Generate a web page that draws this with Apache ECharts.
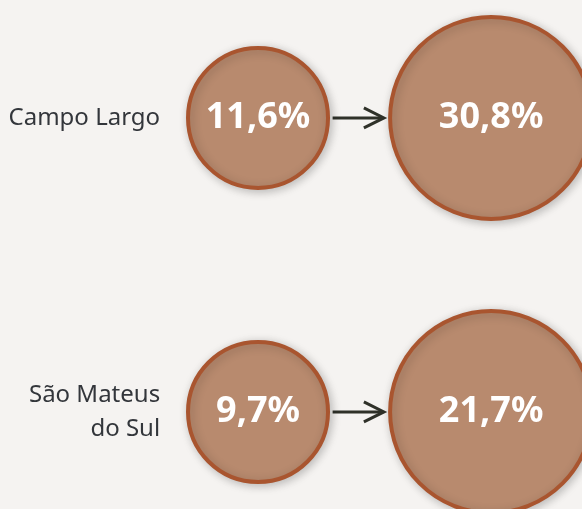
<!DOCTYPE html>
<html>
<head>
<meta charset="utf-8">
<script src="https://cdn.jsdelivr.net/npm/echarts@6/dist/echarts.min.js"></script>
<style>
  html, body { margin: 0; padding: 0; background: #f5f3f1; }
  #chart { width: 582px; height: 509px; }
</style>
</head>
<body>
<div id="chart"></div>
<script>
// municipalities (rows) and the two values compared per row
var cities = ['Campo Largo', 'São Mateus\ndo Sul'];
var before = [11.6, 9.7];
var after = [30.8, 21.7];

function fmt(v) {
  return v.toFixed(1).replace('.', ',') + '%';
}

var fill = '#b88a6e';
var border = '#a9552f';

var chart = echarts.init(document.getElementById('chart'));

var circleStyle = {
  color: fill,
  opacity: 1,
  borderColor: border,
  borderWidth: 4,
  shadowBlur: 10,
  shadowColor: 'rgba(0,0,0,0.22)',
  shadowOffsetX: 2,
  shadowOffsetY: 2
};
var valueLabel = {
  show: true,
  position: 'inside',
  color: '#ffffff',
  opacity: 1,
  fontFamily: 'Noto Sans',
  fontWeight: 'bold',
  fontSize: 36,
  formatter: function (p) { return fmt(p.value[2]); }
};

chart.setOption({
  backgroundColor: '#f5f3f1',
  animation: false,
  grid: { left: 0, right: 0, top: 0, bottom: 0 },
  xAxis: { type: 'value', min: -1.107, max: 1.39, show: false },
  yAxis: { type: 'value', min: -0.401, max: 1.33, inverse: true, show: false },
  series: [
    {
      // row names
      type: 'scatter',
      symbolSize: 0,
      itemStyle: { opacity: 1 },
      data: cities.map(function (c, i) { return [-0.42, i, c]; }),
      label: {
        show: true,
        position: 'left',
        distance: 0,
        align: 'right',
        color: '#33363b',
        opacity: 1,
        fontFamily: 'Noto Sans',
        fontSize: 24,
        lineHeight: 34,
        formatter: function (p) { return p.value[2]; }
      }
    },
    {
      type: 'custom',
      data: cities.map(function (c, i) { return [0.32, 0.54, i]; }),
      renderItem: function (params, api) {
        var a = api.coord([api.value(0), api.value(2)]);
        var b = api.coord([api.value(1), api.value(2)]);
        var st = { stroke: '#2f3129', lineWidth: 3, fill: null };
        return {
          type: 'group',
          children: [
            { type: 'line', shape: { x1: a[0], y1: a[1], x2: b[0] - 2, y2: b[1] }, style: st },
            { type: 'polyline', shape: { points: [[b[0] - 20, b[1] - 10], [b[0], b[1]], [b[0] - 20, b[1] + 10]] }, style: st }
          ]
        };
      }
    },
    {
      type: 'scatter',
      symbolSize: 140,
      itemStyle: circleStyle,
      label: valueLabel,
      data: before.map(function (v, i) { return [0, i, v]; })
    },
    {
      type: 'scatter',
      symbolSize: 202,
      itemStyle: circleStyle,
      label: valueLabel,
      data: after.map(function (v, i) { return [1, i, v]; })
    }
  ]
});
</script>
</body>
</html>
